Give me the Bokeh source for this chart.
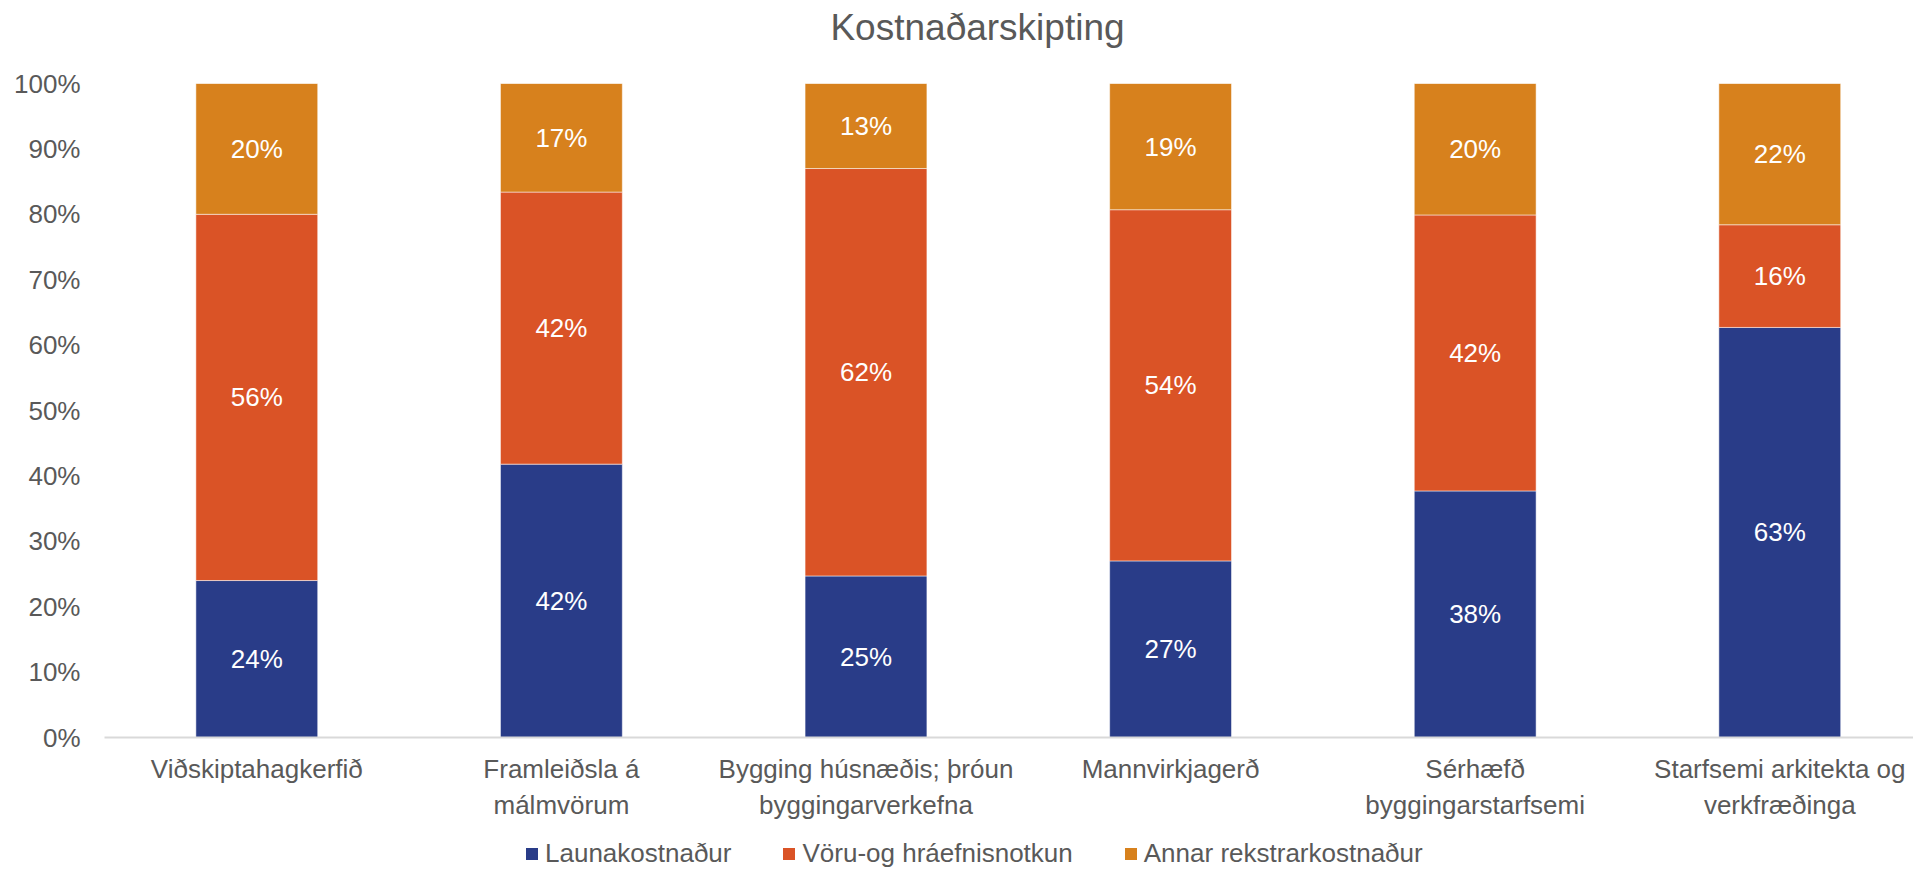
from bokeh.plotting import figure
from bokeh.layouts import column
from bokeh.models import (ColumnDataSource, Range1d, FixedTicker, NumeralTickFormatter,
                          Legend, LegendItem, LabelSet)
from bokeh.core.properties import value
from bokeh.embed import file_html
from bokeh.resources import INLINE

title = "Kostnaðarskipting"
categories = ["Viðskiptahagkerfið", "Framleiðsla á\nmálmvörum",
              "Bygging húsnæðis; þróun\nbyggingarverkefna", "Mannvirkjagerð",
              "Sérhæfð\nbyggingarstarfsemi", "Starfsemi arkitekta og\nverkfræðinga"]
series = ["Launakostnaður", "Vöru-og hráefnisnotkun", "Annar rekstrarkostnaður"]
launa = [0.240, 0.418, 0.247, 0.270, 0.377, 0.627]
voru = [0.560, 0.416, 0.623, 0.537, 0.422, 0.157]
annar = [0.200, 0.166, 0.130, 0.193, 0.201, 0.216]
colors = ["#293C88", "#DA5326", "#D7811D"]
y_ticks = [0.0, 0.1, 0.2, 0.3, 0.4, 0.5, 0.6, 0.7, 0.8, 0.9, 1.0]

xs = list(range(len(categories)))
keys = ["launa", "voru", "annar"]
data = {"x": xs, "launa": launa, "voru": voru, "annar": annar}
source = ColumnDataSource(data)

FONT = "Liberation Sans"
GREY = "#595959"
W = 1913
LEFT = 104

# title strip (x in pixels across the shared frame)
p0 = figure(width=W, height=58, output_backend="svg", toolbar_location=None,
            x_range=Range1d(LEFT, W), y_range=Range1d(0, 58),
            x_axis_location=None, y_axis_location=None,
            min_border_left=LEFT, min_border_right=0, min_border_top=0, min_border_bottom=0)
p0.outline_line_color = None
p0.grid.grid_line_color = None
p0.text(x=[977], y=[31], text=[title], text_font=value(FONT), text_font_size="37px",
        text_color=GREY, text_align="center", text_baseline="middle")

# main chart
p = figure(width=W, height=781, output_backend="svg", toolbar_location=None,
           x_range=Range1d(-0.5, 5.439), y_range=Range1d(0, 1),
           min_border_left=LEFT, min_border_right=0, min_border_top=25,
           min_border_bottom=102)
p.outline_line_color = None
p.grid.grid_line_color = None

renderers = p.vbar_stack(keys, x="x", width=0.4, source=source, color=colors,
                         line_color="white", line_alpha=0.5, line_width=1)

for i, k in enumerate(keys):
    bottoms = [sum(data[kk][j] for kk in keys[:i]) for j in xs]
    mids = [b + v / 2 for b, v in zip(bottoms, data[k])]
    txt = [f"{round(v * 100)}%" for v in data[k]]
    ls = ColumnDataSource({"x": xs, "y": mids, "t": txt})
    p.add_layout(LabelSet(x="x", y="y", text="t", source=ls, text_color="white",
                          text_font=value(FONT), text_font_size="26px", text_align="center",
                          text_baseline="middle"))

p.yaxis.ticker = FixedTicker(ticks=y_ticks)
p.yaxis.formatter = NumeralTickFormatter(format="0%")
p.yaxis.axis_line_color = None
p.yaxis.major_tick_line_color = None
p.yaxis.minor_tick_line_color = None
p.yaxis.major_tick_out = 0
p.yaxis.major_label_standoff = 24
p.yaxis.major_label_text_font = FONT
p.yaxis.major_label_text_font_size = "26px"
p.yaxis.major_label_text_color = GREY

p.xaxis.ticker = FixedTicker(ticks=xs)
p.xaxis.major_label_overrides = {i: c for i, c in enumerate(categories)}
p.xaxis.axis_line_color = "#D9D9D9"
p.xaxis.axis_line_width = 2
p.xaxis.major_tick_line_color = None
p.xaxis.minor_tick_line_color = None
p.xaxis.major_tick_out = 0
p.xaxis.major_label_standoff = 16
p.xaxis.major_label_text_font = FONT
p.xaxis.major_label_text_font_size = "26px"
p.xaxis.major_label_text_color = GREY

# legend strip
p2 = figure(width=W, height=30, output_backend="svg", toolbar_location=None,
            x_range=Range1d(0, 1), y_range=Range1d(0, 1),
            x_axis_location=None, y_axis_location=None,
            min_border_left=LEFT, min_border_right=0, min_border_top=0, min_border_bottom=0)
p2.outline_line_color = None
p2.grid.grid_line_color = None
leg_r = [p2.vbar(x=[0.5], top=[0], bottom=[0], width=0.4, fill_color=c, line_alpha=0)
         for c in colors]
legend = Legend(items=[LegendItem(label=s, renderers=[r]) for s, r in zip(series, leg_r)],
                orientation="horizontal", location=(420, 0),
                label_text_font=FONT, label_text_font_size="26px", label_text_color=GREY,
                glyph_width=15, glyph_height=15, label_standoff=6, spacing=50,
                padding=0, margin=0, border_line_color=None, background_fill_alpha=0)
p2.add_layout(legend, "center")

layout = column(p0, p, p2, spacing=0)
open("out.html", "w").write(file_html(layout, INLINE))
